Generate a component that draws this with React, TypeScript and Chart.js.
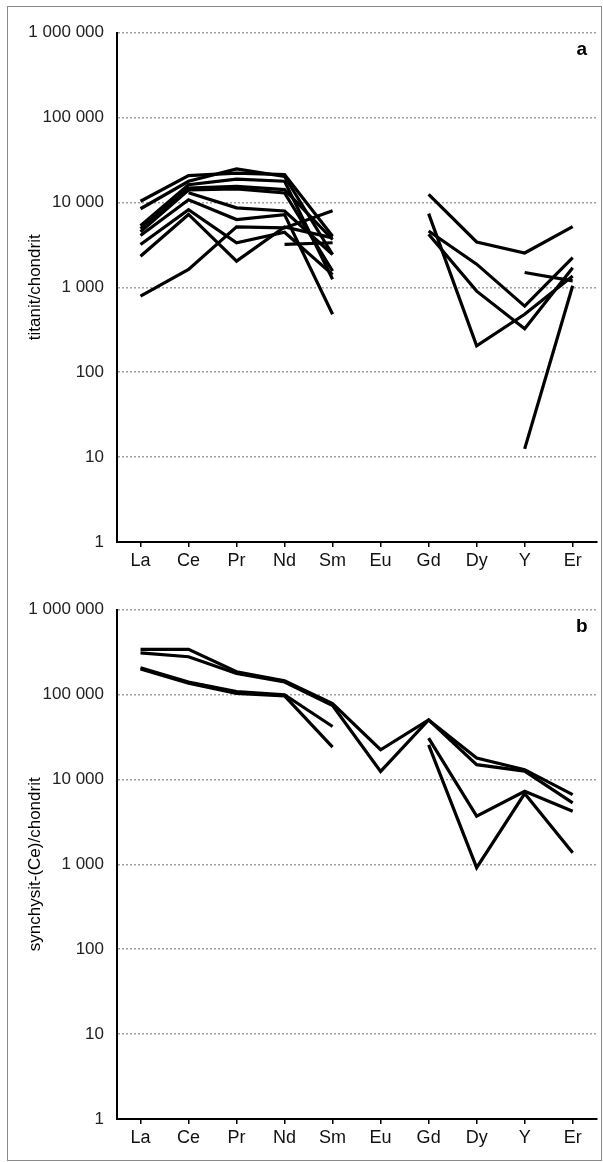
import React, { useEffect, useRef } from "react";
import { Chart, registerables } from "chart.js";

Chart.register(...registerables);

const categories = ["La", "Ce", "Pr", "Nd", "Sm", "Eu", "Gd", "Dy", "Y", "Er"];
const yTickValues = [1, 10, 100, 1000, 10000, 100000, 1000000];

// panel a – titanit / chondrit
const titanitLight1 = [10300, 20600, 22100, 21200, 3990, null, null, null, null, null];
const titanitLight2 = [8400, 17700, 24700, 20200, 2430, null, null, null, null, null];
const titanitLight3 = [5300, 16100, 18800, 17700, 1240, null, null, null, null, null];
const titanitLight4 = [4900, 14700, 15400, 14100, 3650, null, null, null, null, null];
const titanitLight5 = [4500, 14000, 14400, 12900, 1550, null, null, null, null, null];
const titanitLight6 = [4060, 10700, 6270, 7170, 480, null, null, null, null, null];
const titanitLight7 = [3190, 8200, 3340, 4440, 1410, null, null, null, null, null];
const titanitLight8 = [2320, 7200, 2030, 5140, 3810, null, null, null, null, null];
const titanitLight9 = [785, 1620, 5140, 5000, 7980, null, null, null, null, null];
const titanitLight10 = [null, 13000, 8600, 7900, 2430, null, null, null, null, null];
const titanitLight11 = [null, null, null, 3190, 3340, null, null, null, null, null];
const titanitHeavy1 = [null, null, null, null, null, null, 12400, 3410, 2530, 5180];
const titanitHeavy2 = [null, null, null, null, null, null, 7360, 204, 480, 1360];
const titanitHeavy3 = [null, null, null, null, null, null, 4590, 1870, 600, 2240];
const titanitHeavy4 = [null, null, null, null, null, null, 4210, 900, 325, 1700];
const titanitHeavy5 = [null, null, null, null, null, null, null, null, 1490, 1190];
const titanitHeavy6 = [null, null, null, null, null, null, null, null, 12.5, 1040];

// panel b – synchysit-(Ce) / chondrit
const synchysit1 = [340000, 340000, 185000, 145000, 78000, 22300, 50100, 17800, 13000, 6600];
const synchysit2 = [309000, 278000, 176000, 140000, 74000, 12400, 50100, 14900, 12500, 5290];
const synchysit3 = [206000, 140000, 108000, 99000, 41900, null, null, null, null, null];
const synchysit4 = [200000, 136000, 103000, 96000, 24000, null, null, null, null, null];
const synchysit5 = [null, null, null, null, null, null, 30600, 3680, 7230, 4210];
const synchysit6 = [null, null, null, null, null, null, 25500, 912, 6800, 1370];

const titanitSeries = [
  titanitLight1, titanitLight2, titanitLight3, titanitLight4, titanitLight5, titanitLight6,
  titanitLight7, titanitLight8, titanitLight9, titanitLight10, titanitLight11,
  titanitHeavy1, titanitHeavy2, titanitHeavy3, titanitHeavy4, titanitHeavy5, titanitHeavy6,
];
const synchysitSeries = [synchysit1, synchysit2, synchysit3, synchysit4, synchysit5, synchysit6];

const FONT = "'Liberation Sans', Arial, Helvetica, sans-serif";

const formatTick = (v: number) => String(v).replace(/\B(?=(\d{3})+(?!\d))/g, " ");

const panelLabelPlugin = {
  id: "panelLabel",
  afterDraw(chart: any, _args: any, opts: any) {
    const { ctx, chartArea } = chart;
    ctx.save();
    ctx.font = `bold 19px ${FONT}`;
    ctx.fillStyle = "#000";
    ctx.textAlign = "center";
    ctx.textBaseline = "alphabetic";
    ctx.fillText(opts.text, chartArea.right - 15, chartArea.top + 22);
    ctx.restore();
  },
};

function Panel({ series, title, label, top }: { series: (number | null)[][]; title: string; label: string; top: number }) {
  const ref = useRef<HTMLCanvasElement | null>(null);
  useEffect(() => {
    if (!ref.current) return;
    const chart = new Chart(ref.current, {
      type: "line",
      data: {
        labels: categories,
        datasets: series.map((d, i) => ({
          label: `${label}${i + 1}`,
          data: d,
          borderColor: "#000",
          borderWidth: 3.2,
          pointRadius: 0,
          fill: false,
          spanGaps: false,
          tension: 0,
        })),
      },
      options: {
        animation: false,
        responsive: false,
        events: [],
        layout: { padding: { top: 32.5, right: 6.3, bottom: 1.5, left: 0 } },
        plugins: {
          legend: { display: false },
          tooltip: { enabled: false },
          panelLabel: { text: label },
        } as any,
        scales: {
          x: {
            type: "category",
            offset: true,
            grid: {
              offset: false,
              drawOnChartArea: false,
              drawTicks: true,
              tickLength: 5,
              color: "#000",
              lineWidth: 1.5,
            },
            border: { display: true, color: "#000", width: 2 },
            ticks: {
              color: "#111",
              font: { family: FONT, size: 18 },
              padding: 3,
              maxRotation: 0,
              autoSkip: false,
            },
            afterFit: (s: any) => {
              s.height = 41.5;
            },
          },
          y: {
            type: "logarithmic",
            min: 1,
            max: 1000000,
            afterBuildTicks: (s: any) => {
              s.ticks = yTickValues.map((v) => ({ value: v }));
            },
            afterFit: (s: any) => {
              s.width = 116.5;
            },
            grid: { color: "#a0a0a0", lineWidth: 1.5, drawTicks: false },
            border: { display: true, color: "#000", width: 2, dash: [2, 2] },
            ticks: {
              color: "#222",
              font: { family: FONT, size: 17 },
              padding: 12.5,
              callback: (v: any) => formatTick(Number(v)),
            },
            title: {
              display: true,
              text: title,
              color: "#000",
              font: { family: FONT, size: 17 },
              padding: { top: 25, bottom: 0 },
            },
          },
        },
      } as any,
      plugins: [panelLabelPlugin],
    });
    return () => chart.destroy();
  }, []);
  return (
    <canvas
      ref={ref}
      width={603}
      height={585}
      style={{ position: "absolute", left: 0, top, width: 603, height: 585 }}
    />
  );
}

export default function App() {
  return (
    <div style={{ position: "absolute", left: 0, top: 0, width: 603, height: 1162, overflow: "hidden", background: "#fff" }}>
      <div
        style={{
          position: "absolute",
          left: 7,
          top: 6,
          width: 595,
          height: 1155,
          border: "1px solid #8a8a8a",
          boxSizing: "border-box",
        }}
      />
      <Panel series={titanitSeries} title="titanit/chondrit" label="a" top={0} />
      <Panel series={synchysitSeries} title="synchysit-(Ce)/chondrit" label="b" top={577} />
    </div>
  );
}
